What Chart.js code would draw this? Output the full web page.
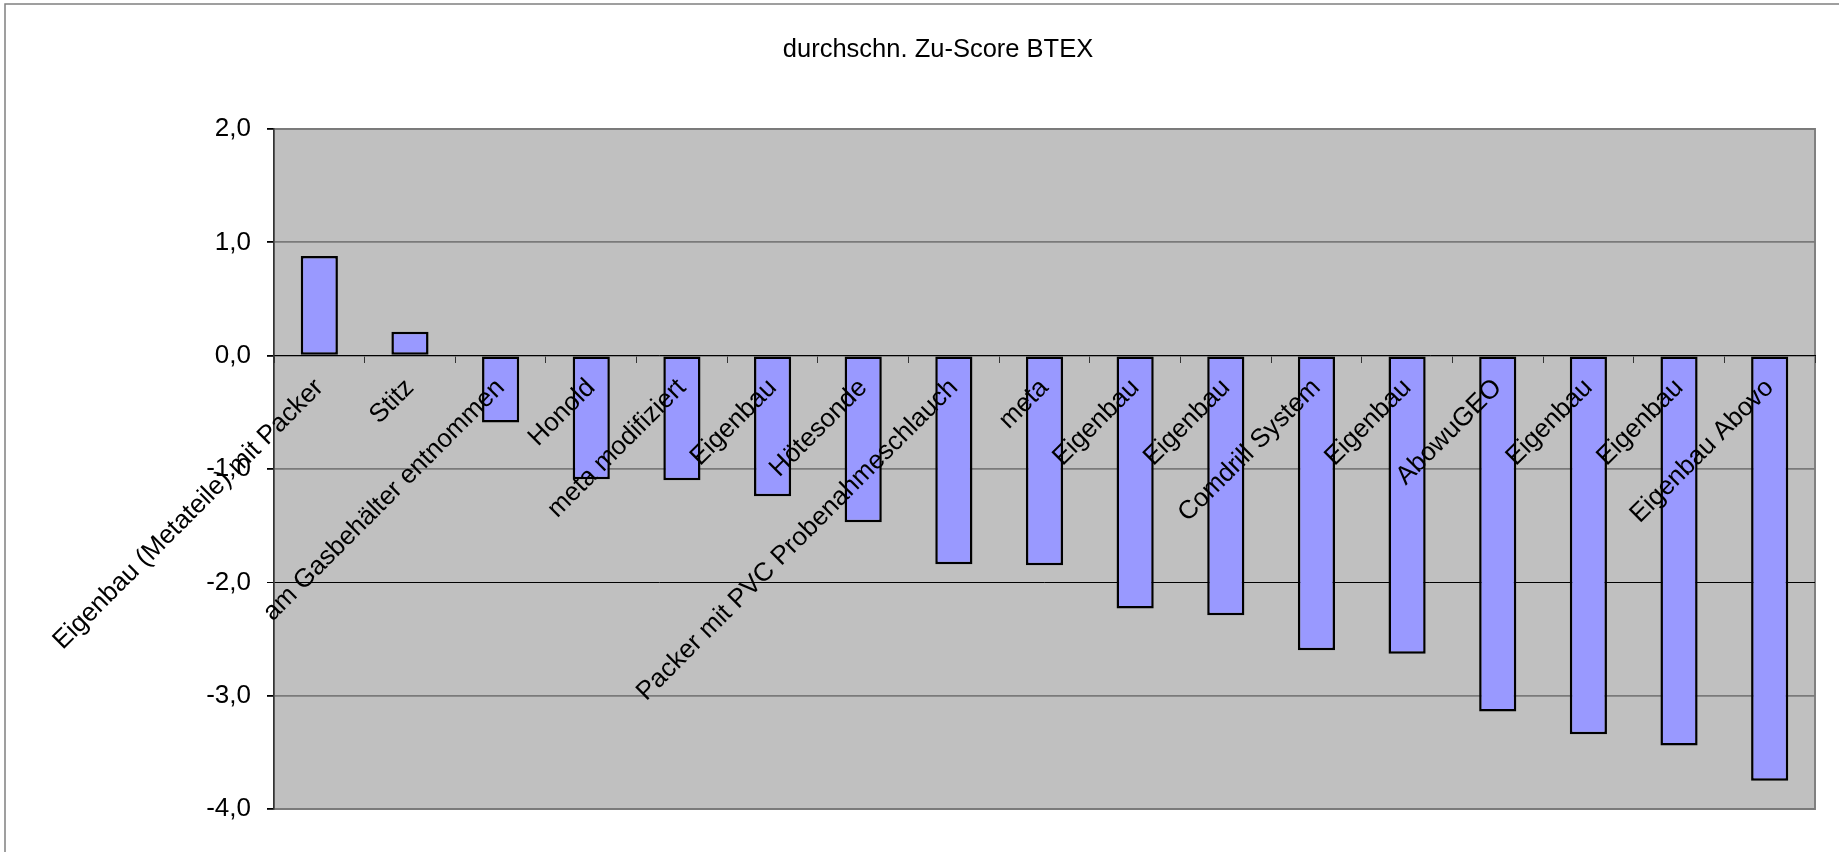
<!DOCTYPE html>
<html lang="de">
<head>
    <meta charset="UTF-8">
    <title>durchschn. Zu-Score BTEX</title>
    <script src="https://cdn.jsdelivr.net/npm/chart.js"></script>
    <style>
        html, body { margin: 0; padding: 0; background: #fff; }
        #wrap { width: 1839px; height: 852px; }
    </style>
</head>
<body>
    <div id="wrap"><canvas id="btexChart" width="1839" height="852"></canvas></div>

    <script>
        // Kategorien (Probenahmesysteme) und durchschnittlicher Zu-Score BTEX
        const labels = [
            'Eigenbau (Metateile) mit Packer', 'Stitz', 'am Gasbehälter entnommen', 'Honold',
            'meta modifiziert', 'Eigenbau', 'Hötesonde', 'Packer mit PVC Probenahmeschlauch',
            'meta', 'Eigenbau', 'Eigenbau', 'Comdrill System', 'Eigenbau', 'AbowuGEO',
            'Eigenbau', 'Eigenbau', 'Eigenbau Abovo'
        ];
        const scores = [0.88, 0.21, -0.59, -1.09, -1.10, -1.24, -1.47, -1.84,
                        -1.85, -2.23, -2.29, -2.60, -2.63, -3.14, -3.34, -3.44, -3.75];
        const yMin = -4, yMax = 2, yStep = 1;
        const chartTitle = 'durchschn. Zu-Score BTEX';

        const font = "'Liberation Sans', Arial, sans-serif";

        // grauer Hintergrund der Zeichenfläche, Rahmen und Titel
        const plotArea = {
            id: 'plotArea',
            beforeDraw(chart) {
                const { ctx, chartArea: a } = chart;
                ctx.save();
                ctx.strokeStyle = '#808080';
                ctx.lineWidth = 1.5;
                ctx.strokeRect(5, 4, 1900, 1000);
                ctx.fillStyle = '#c0c0c0';
                ctx.fillRect(a.left, a.top, a.width, a.height);
                ctx.strokeStyle = '#808080';
                ctx.lineWidth = 2;
                ctx.strokeRect(a.left, a.top, a.width, a.height);

                // Titel (etwas rechts der Mitte, wie in der Vorlage)
                ctx.fillStyle = '#000';
                ctx.font = '25.5px ' + font;
                ctx.textAlign = 'center';
                ctx.textBaseline = 'middle';
                ctx.fillText(chartTitle, 938, 50);
                ctx.restore();
            }
        };

        new Chart(document.getElementById('btexChart'), {
            type: 'bar',
            data: {
                labels: labels,
                datasets: [{
                    data: scores,
                    backgroundColor: '#9999ff',
                    borderColor: '#000',
                    borderWidth: 2.5,
                    borderSkipped: false,
                    barPercentage: 0.41,
                    categoryPercentage: 1
                }]
            },
            options: {
                responsive: false,
                animation: false,
                layout: { padding: { left: 0, right: 24, top: 129, bottom: 43 } },
                plugins: {
                    legend: { display: false },
                    tooltip: { enabled: false },
                    title: { display: false }
                },
                scales: {
                    x: {
                        position: { y: 0 },
                        grid: { drawOnChartArea: false, offset: true, tickLength: 7, tickColor: '#333' },
                        border: { color: '#000', width: 1 },
                        ticks: {
                            z: 1,
                            color: '#000',
                            font: { family: font, size: 26 },
                            minRotation: 45,
                            maxRotation: 45,
                            autoSkip: false,
                            padding: 10
                        },
                        afterFit(s) { s.paddingLeft = 0; s.paddingRight = 0; }
                    },
                    y: {
                        min: yMin,
                        max: yMax,
                        grid: {
                            // -2,0 erscheint in der Vorlage als schmale schwarze Linie
                            color: c => c.tick && c.tick.value === -2 ? '#000' : '#7a7a7a',
                            lineWidth: c => c.tick && c.tick.value === -2 ? 1 : 1.8,
                            tickLength: 7,
                            tickColor: '#000'
                        },
                        border: { color: '#333', width: 1.5 },
                        ticks: {
                            stepSize: yStep,
                            color: '#000',
                            padding: 16,
                            font: { family: font, size: 26 },
                            callback: v => v.toFixed(1).replace('.', ',')
                        },
                        afterFit(s) { s.width = 274; }
                    }
                }
            },
            plugins: [plotArea]
        });
    </script>
</body>
</html>
